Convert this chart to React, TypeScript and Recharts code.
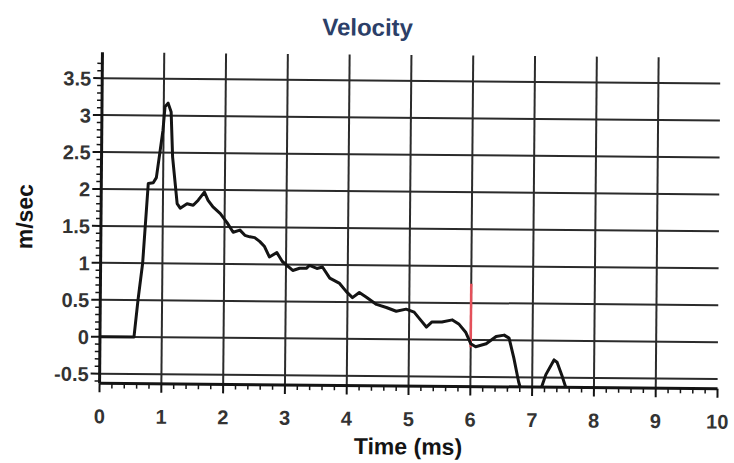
import { LineChart, Line, XAxis, YAxis, CartesianGrid, ReferenceLine } from "recharts"

const INK = "#141414"
const GRID = "#2b2b2b"
const TITLE_BLUE = "#2c3f68"
const MARKER_RED = "#e4505a"
const FONT = "'Liberation Sans', Arial, sans-serif"

// time in ms
const TIME = [
  0, 0.55, 0.61, 0.68, 0.76, 0.84, 0.89, 0.99, 1.02, 1.07, 1.12, 1.15, 1.23, 1.28,
  1.39, 1.49, 1.57, 1.67, 1.73, 1.81, 1.93, 2.04, 2.14, 2.25, 2.33, 2.41, 2.49,
  2.57, 2.65, 2.73, 2.85, 2.94, 3.11, 3.22, 3.33, 3.38, 3.5, 3.59, 3.71, 3.87,
  3.98, 4.08, 4.19, 4.3, 4.47, 4.63, 4.79, 4.95, 5.08, 5.16, 5.28, 5.37, 5.53,
  5.7, 5.81, 5.92, 6.0, 6.08, 6.25, 6.41, 6.54, 6.62, 6.7, 6.78, 6.85, 7.1,
  7.22, 7.35, 7.4, 7.48, 7.56, 7.65,
]

// velocity in m/sec
const VELOCITY = [
  0, 0, 0.5, 1.0, 2.08, 2.09, 2.16, 2.8, 3.12, 3.17, 3.05, 2.44, 1.81, 1.75,
  1.81, 1.79, 1.86, 1.97, 1.86, 1.77, 1.68, 1.56, 1.43, 1.46, 1.39, 1.37, 1.36,
  1.31, 1.24, 1.1, 1.16, 1.04, 0.92, 0.95, 0.95, 0.99, 0.95, 0.97, 0.82, 0.75,
  0.64, 0.56, 0.63, 0.57, 0.47, 0.43, 0.38, 0.41, 0.37, 0.29, 0.17, 0.24, 0.24,
  0.27, 0.21, 0.1, -0.05, -0.09, -0.05, 0.05, 0.07, 0.03, -0.24, -0.56, -0.76, -0.76,
  -0.46, -0.26, -0.29, -0.47, -0.67, -0.8,
]

const X_MAJOR = [0, 1, 2, 3, 4, 5, 6, 7, 8, 9, 10]
const Y_MAJOR = [-0.5, 0, 0.5, 1, 1.5, 2, 2.5, 3, 3.5]

// red cursor line
const MARKER_TIME = 6
const MARKER_TOP = 0.76
const MARKER_BOTTOM = -0.1

const X_TICKS = Array.from({ length: 51 }, (_, i) => Math.round(i * 2) / 10)
const Y_TICKS = Array.from({ length: 44 }, (_, i) => Math.round(i - 6) / 10)

const data = TIME.map((t, i) => ({ t, v: VELOCITY[i] }))

const isMajorX = (v: number) => Math.abs(v - Math.round(v)) < 1e-6
const isMajorY = (v: number) => Math.abs(v * 2 - Math.round(v * 2)) < 1e-6

function XTick({ x, y, payload }: any) {
  const v = payload.value
  const major = isMajorX(v)
  return (
    <g>
      <line x1={x} x2={x} y1={y} y2={y + (major ? 9 : 5)} stroke={INK} strokeWidth={major ? 2 : 1.5} />
      {major && (
        <text x={x} y={y + 40} textAnchor="middle" fontSize={20} fontWeight={700} fill="#333" fontFamily={FONT}>
          {Math.round(v)}
        </text>
      )}
    </g>
  )
}

function YTick({ x, y, payload }: any) {
  const v = payload.value
  const major = isMajorY(v) && v > -0.55 && v < 3.55
  return (
    <g>
      <line x1={x - (major ? 9 : 5)} x2={x} y1={y} y2={y} stroke={INK} strokeWidth={major ? 2 : 1.5} />
      {major && (
        <text x={x - 11} y={y + 7.5} textAnchor="end" fontSize={20} fontWeight={700} fill="#333" fontFamily={FONT}>
          {String(v)}
        </text>
      )}
    </g>
  )
}

export default function App() {
  return (
    <div
      style={{
        position: "absolute",
        left: 0,
        top: 0,
        width: 734,
        height: 463,
        background: "#fff",
        transform: "rotate(0.5deg)",
        transformOrigin: "410px 220px",
        fontFamily: FONT,
      }}
    >
      <div
        style={{
          position: "absolute",
          left: 366,
          top: 28,
          transform: "translate(-50%, -50%)",
          fontSize: 24,
          fontWeight: 700,
          color: TITLE_BLUE,
          whiteSpace: "nowrap",
        }}
      >
        Velocity
      </div>
      <div
        style={{
          position: "absolute",
          left: 25,
          top: 220,
          transform: "translate(-50%, -50%) rotate(-90deg)",
          fontSize: 23,
          fontWeight: 700,
          color: INK,
          whiteSpace: "nowrap",
        }}
      >
        m/sec
      </div>
      <div
        style={{
          position: "absolute",
          left: 410,
          top: 447,
          transform: "translate(-50%, -50%)",
          fontSize: 23,
          fontWeight: 700,
          color: INK,
          whiteSpace: "nowrap",
        }}
      >
        Time (ms)
      </div>
      <LineChart width={734} height={463} data={data} margin={{ top: 55, right: 15, bottom: 27, left: 0 }}>
        <CartesianGrid
          horizontalValues={Y_MAJOR}
          verticalValues={X_MAJOR.slice(1, -1)}
          stroke={GRID}
          strokeWidth={2}
        />
        <XAxis
          dataKey="t"
          type="number"
          domain={[0, 10]}
          ticks={X_TICKS}
          interval={0}
          tickSize={0}
          tickMargin={0}
          tick={XTick}
          height={50}
          axisLine={{ stroke: INK, strokeWidth: 3 }}
        />
        <YAxis
          type="number"
          domain={[-0.63, 3.85]}
          allowDataOverflow
          ticks={Y_TICKS}
          interval={0}
          tickSize={0}
          tickMargin={0}
          tick={YTick}
          width={101}
          axisLine={{ stroke: INK, strokeWidth: 3 }}
        />
        <ReferenceLine
          segment={[
            { x: MARKER_TIME, y: MARKER_TOP },
            { x: MARKER_TIME, y: MARKER_BOTTOM },
          ]}
          stroke={MARKER_RED}
          strokeWidth={2.5}
        />
        <Line
          dataKey="v"
          type="linear"
          stroke={INK}
          strokeWidth={3}
          strokeLinejoin="round"
          dot={false}
          activeDot={false}
          isAnimationActive={false}
        />
      </LineChart>
    </div>
  )
}
